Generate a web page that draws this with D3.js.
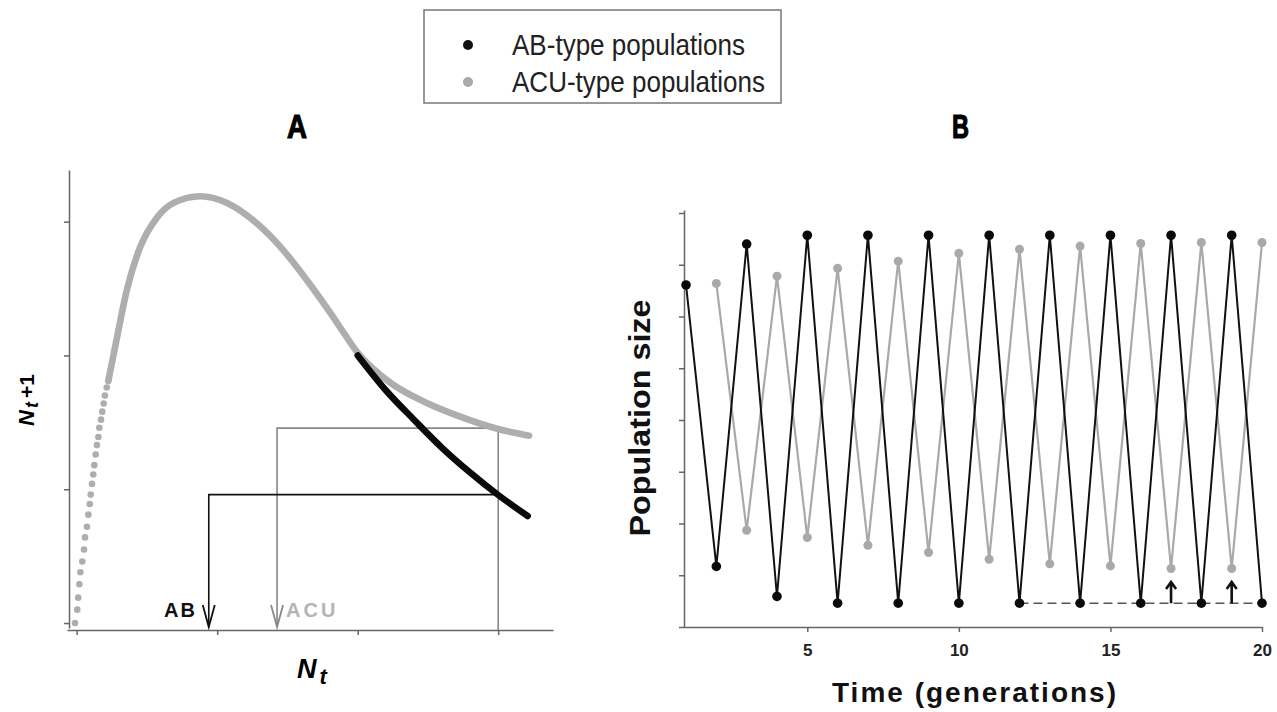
<!DOCTYPE html>
<html>
<head>
<meta charset="utf-8">
<script src="https://cdn.jsdelivr.net/npm/d3@7"></script>
<style>
  body { margin: 0; background: #fff; }
  .ax path, .ax line { stroke: #666; stroke-width: 1.5; }
</style>
</head>
<body>
<script>
// ---- panel A : N_t -> N_t+1 maps ----
// steep start of the ACU curve, where the single dots are visible
const acuDots = [
  [-0.012, 0.00], [0.004, 0.10], [0.011, 0.19], [0.019, 0.29], [0.026, 0.38],
  [0.040, 0.46], [0.052, 0.55], [0.059, 0.64], [0.073, 0.72], [0.083, 0.81],
  [0.093, 0.89], [0.100, 0.96], [0.109, 1.04], [0.118, 1.11], [0.125, 1.18],
  [0.135, 1.26], [0.144, 1.33], [0.154, 1.39], [0.161, 1.46], [0.173, 1.52],
  [0.182, 1.58], [0.192, 1.64], [0.201, 1.70], [0.214, 1.76], [0.225, 1.81]
];
// rest of the ACU curve (dots merge into a thick line)
const acuCurve = [
  [0.225, 1.81], [0.286, 2.13], [0.357, 2.49], [0.452, 2.81], [0.571, 3.03],
  [0.69, 3.14], [0.88, 3.19], [1.07, 3.14], [1.29, 2.98], [1.476, 2.78],
  [1.64, 2.56], [1.81, 2.31], [1.9, 2.17], [2.0, 2.02], [2.1, 1.91],
  [2.24, 1.79], [2.48, 1.65], [2.71, 1.55], [3.0, 1.45], [3.22, 1.40]
];
// AB curve, splits off at the equilibrium
const abCurve = [
  [2.0, 2.0], [2.2, 1.74], [2.4, 1.52], [2.6, 1.31], [2.8, 1.125],
  [3.0, 0.957], [3.21, 0.80]
];
const mapTicks = [0, 1, 2, 3];
// one cobweb step from N_t = 3
const abStep = { from: 3, level: 0.96, to: 0.94 };
const acuStep = { from: 3, level: 1.457, to: 1.426 };

// ---- panel B : population size over time ----
const generations = [1, 2, 3, 4, 5, 6, 7, 8, 9, 10, 11, 12, 13, 14, 15, 16, 17, 18, 19, 20];
const abSizes = [6.61, 1.17, 7.40, 0.59, 7.57, 0.46, 7.57, 0.46, 7.57, 0.46,
                 7.57, 0.46, 7.57, 0.46, 7.57, 0.46, 7.57, 0.46, 7.57, 0.46];
const acuSizes = [null, 6.64, 1.87, 6.78, 1.73, 6.93, 1.58, 7.07, 1.44, 7.22,
                  1.31, 7.30, 1.22, 7.36, 1.18, 7.41, 1.13, 7.43, 1.13, 7.43];
const timeTicks = [5, 10, 15, 20];
const sizeTicks = [0, 1, 2, 3, 4, 5, 6, 7, 8];
const floorLine = { from: 12, to: 20, value: 0.46 };
const arrowTimes = [17, 19];
const arrowTop = 0.87;

const legendItems = [
  { label: "AB-type populations", color: "#111", len: 233 },
  { label: "ACU-type populations", color: "#aaa", len: 253 }
];

const sans = "'Liberation Sans', Arial, sans-serif";

const svg = d3.select("body").append("svg")
  .attr("width", 1277)
  .attr("height", 712);

// legend
const leg = svg.append("g");
leg.append("rect")
  .attr("x", 424).attr("y", 10).attr("width", 357).attr("height", 93)
  .attr("fill", "none").attr("stroke", "#777").attr("stroke-width", 1.5);
legendItems.forEach((d, i) => {
  leg.append("circle")
    .attr("cx", 468).attr("cy", 45 + i * 37).attr("r", 5)
    .attr("fill", d.color);
  leg.append("text")
    .attr("x", 512).attr("y", 55 + i * 37)
    .attr("font-family", sans).attr("font-size", 29).attr("fill", "#222")
    .attr("textLength", d.len).attr("lengthAdjust", "spacingAndGlyphs")
    .text(d.label);
});

// panel titles (heavy, condensed)
[["A", 287, 20], ["B", 952, 17]].forEach(([t, x, w]) => {
  svg.append("text")
    .attr("x", x).attr("y", 138)
    .attr("font-family", sans).attr("font-weight", "bold").attr("font-size", 34)
    .attr("stroke", "#000").attr("stroke-width", 1.2)
    .attr("textLength", w).attr("lengthAdjust", "spacingAndGlyphs")
    .text(t);
});

// ================= panel A =================
const xA = d3.scaleLinear().domain([-0.069, 3.39]).range([67, 553]);
const yA = d3.scaleLinear().domain([-0.037, 3.386]).range([628, 170]);
const gA = svg.append("g");

gA.append("g").attr("class", "ax")
  .attr("transform", "translate(69,0)")
  .call(d3.axisLeft(yA).tickValues(mapTicks).tickSize(5).tickSizeOuter(0).tickFormat(""));
gA.append("g").attr("class", "ax")
  .attr("transform", "translate(0,630)")
  .call(d3.axisBottom(xA).tickValues(mapTicks).tickSize(5).tickSizeOuter(0).tickFormat(""));

// cobweb lines
const tipY = 627;
function vArrow(g, x, color) {
  g.append("path")
    .attr("d", `M${x - 6},${tipY - 22}L${x},${tipY}L${x + 6},${tipY - 22}`)
    .attr("fill", "none").attr("stroke", color).attr("stroke-width", 1.8);
}
// ACU (grey)
gA.append("path")
  .attr("d", `M${xA(acuStep.from)},630V${yA(acuStep.level)}H${xA(acuStep.to)}V${tipY}`)
  .attr("fill", "none").attr("stroke", "#888").attr("stroke-width", 1.6);
vArrow(gA, xA(acuStep.to), "#888");
// AB (black)
gA.append("path")
  .attr("d", `M${xA(abStep.from)},${yA(abStep.level)}H${xA(abStep.to)}V${tipY}`)
  .attr("fill", "none").attr("stroke", "#111").attr("stroke-width", 1.6);
vArrow(gA, xA(abStep.to), "#111");

const lineA = d3.line().x(d => xA(d[0])).y(d => yA(d[1])).curve(d3.curveMonotoneX);

gA.append("path")
  .attr("d", lineA(acuCurve))
  .attr("fill", "none").attr("stroke", "#aeaeae").attr("stroke-width", 6.6)
  .attr("stroke-linecap", "round");
gA.selectAll("circle.acu")
  .data(acuDots)
  .join("circle")
  .attr("class", "acu")
  .attr("cx", d => xA(d[0])).attr("cy", d => yA(d[1])).attr("r", 3.3)
  .attr("fill", "#aeaeae");
gA.append("path")
  .attr("d", lineA(abCurve))
  .attr("fill", "none").attr("stroke", "#0a0a0a").attr("stroke-width", 6.5)
  .attr("stroke-linecap", "round");

// AB / ACU labels
gA.append("text")
  .attr("x", 164).attr("y", 617)
  .attr("font-family", sans).attr("font-weight", "bold").attr("font-size", 20)
  .attr("letter-spacing", 2).attr("fill", "#111")
  .text("AB");
gA.append("text")
  .attr("x", 286).attr("y", 617)
  .attr("font-family", sans).attr("font-weight", "bold").attr("font-size", 20)
  .attr("letter-spacing", 3).attr("fill", "#b4b4b4")
  .text("ACU");

// axis titles
const xt = gA.append("text")
  .attr("x", 312).attr("y", 678).attr("text-anchor", "middle")
  .attr("font-family", sans).attr("font-weight", "bold").attr("font-style", "italic");
xt.append("tspan").attr("font-size", 27).text("N");
xt.append("tspan").attr("font-size", 22).attr("dx", 3).attr("dy", 6).text("t");

const yt = gA.append("text")
  .attr("transform", "translate(34,400) rotate(-90)")
  .attr("text-anchor", "middle")
  .attr("font-family", sans).attr("font-weight", "bold");
yt.append("tspan").attr("font-style", "italic").attr("font-size", 22).text("N");
yt.append("tspan").attr("font-style", "italic").attr("font-size", 18).attr("dx", 2).attr("dy", 4).text("t");
yt.append("tspan").attr("font-size", 21).attr("dx", 4).attr("dy", -4).text("+1");

// ================= panel B =================
const xB = d3.scaleLinear().domain([0.9, 20]).range([683, 1262]);
const yB = d3.scaleLinear().domain([0, 8.058]).range([627, 210]);
const gB = svg.append("g");

gB.append("g").attr("class", "ax")
  .attr("transform", "translate(684,0)")
  .call(d3.axisLeft(yB).tickValues(sizeTicks).tickSize(5).tickSizeOuter(0).tickFormat(""));
const xAxB = gB.append("g").attr("class", "ax")
  .attr("transform", "translate(0,627)")
  .call(d3.axisBottom(xB).tickValues(timeTicks).tickSize(5).tickPadding(12).tickSizeOuter(0));
xAxB.selectAll("text")
  .attr("font-family", sans).attr("font-weight", "bold").attr("font-size", 17)
  .attr("fill", "#222");

const acuSeries = generations.map((t, i) => [t, acuSizes[i]]);
const abSeries = generations.map((t, i) => [t, abSizes[i]]);
const lineB = d3.line().defined(d => d[1] != null).x(d => xB(d[0])).y(d => yB(d[1]));

gB.append("path")
  .attr("d", lineB(acuSeries))
  .attr("fill", "none").attr("stroke", "#a9a9a9").attr("stroke-width", 2.2);
gB.selectAll("circle.acu")
  .data(acuSeries.filter(d => d[1] != null))
  .join("circle")
  .attr("class", "acu")
  .attr("cx", d => xB(d[0])).attr("cy", d => yB(d[1])).attr("r", 4.5)
  .attr("fill", "#a9a9a9");

// dashed floor line
gB.append("line")
  .attr("x1", xB(floorLine.from)).attr("x2", xB(floorLine.to))
  .attr("y1", yB(floorLine.value)).attr("y2", yB(floorLine.value))
  .attr("stroke", "#555").attr("stroke-width", 1.5).attr("stroke-dasharray", "9,5");

gB.append("path")
  .attr("d", lineB(abSeries))
  .attr("fill", "none").attr("stroke", "#111").attr("stroke-width", 2);
gB.selectAll("circle.ab")
  .data(abSeries)
  .join("circle")
  .attr("class", "ab")
  .attr("cx", d => xB(d[0])).attr("cy", d => yB(d[1])).attr("r", 4.8)
  .attr("fill", "#0a0a0a");

// small up arrows
arrowTimes.forEach(t => {
  const x = xB(t), y0 = yB(floorLine.value), y1 = yB(arrowTop);
  gB.append("path")
    .attr("d", `M${x},${y0}V${y1 + 1}M${x - 5},${y1 + 7}L${x},${y1}L${x + 5},${y1 + 7}`)
    .attr("fill", "none").attr("stroke", "#111").attr("stroke-width", 2.6);
});

gB.append("text")
  .attr("transform", "translate(650,418) rotate(-90)")
  .attr("text-anchor", "middle")
  .attr("font-family", sans).attr("font-weight", "bold").attr("font-size", 30)
  .attr("textLength", 237).attr("lengthAdjust", "spacingAndGlyphs")
  .attr("fill", "#111")
  .text("Population size");

gB.append("text")
  .attr("x", 832).attr("y", 702)
  .attr("font-family", sans).attr("font-weight", "bold").attr("font-size", 28)
  .attr("textLength", 284).attr("lengthAdjust", "spacing")
  .attr("fill", "#111")
  .text("Time (generations)");
</script>
</body>
</html>
